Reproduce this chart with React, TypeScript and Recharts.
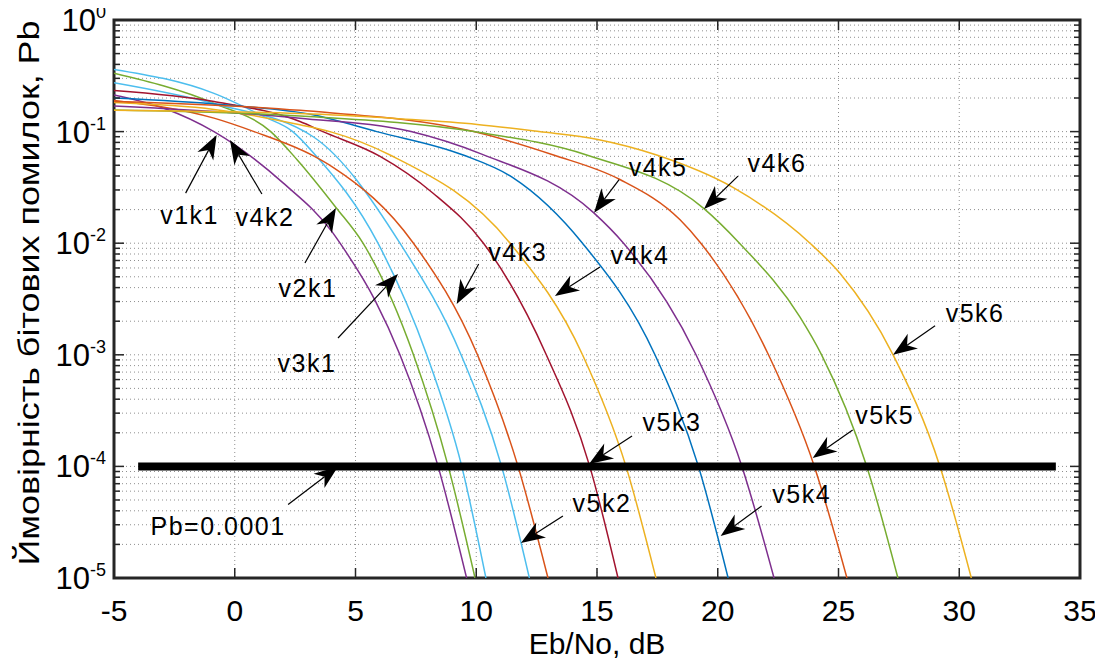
import {
  LineChart,
  Line,
  XAxis,
  YAxis,
  CartesianGrid,
  ReferenceArea,
  ReferenceDot,
} from "recharts";

const CHART_W = 1103;
const CHART_H = 666;
// plot box inside the svg (px)
const PLOT = { left: 114, top: 20, right: 1080, bottom: 578 };

const FONT = '"Liberation Sans", Arial, Helvetica, sans-serif';
const AXIS_INK = "#262626";

// MATLAB default colour order
const C_BLUE = "#0072BD";
const C_ORANGE = "#D95319";
const C_YELLOW = "#EDB120";
const C_PURPLE = "#7E2F8E";
const C_GREEN = "#77AC30";
const C_CYAN = "#4DBEEE";
const C_RED = "#A2142F";

// axis ticks
const xTicks = [-5, 0, 5, 10, 15, 20, 25, 30, 35];
const yExponents = [0, -1, -2, -3, -4, -5];
const yMinorSteps = [2, 3, 4, 5, 6, 7, 8, 9];
const yMajorTicks = yExponents.map((e) => Math.pow(10, e));
const yMinorTicks = yExponents
  .filter((e) => e < 0)
  .flatMap((e) => yMinorSteps.map((m) => m * Math.pow(10, e)));
const yTicks = [...yMajorTicks, ...yMinorTicks].sort((a, b) => a - b);

// BER curves: [Eb/No dB, Pb]
const v1k1: [number, number][] = [
  [-5, 0.213], [-2.93, 0.162], [-0.86, 0.1], [2.0, 0.0347], [4.07, 0.0123],
  [4.36, 0.01], [5.8, 0.0031], [6.84, 0.001], [8.42, 1e-4], [9.6, 1e-5],
];
const v2k1: [number, number][] = [
  [-5, 0.333], [-0.86, 0.179], [1.49, 0.1], [2.59, 0.0557], [4.19, 0.0209],
  [5.31, 0.01], [7.4, 0.001], [8.84, 1e-4], [9.95, 1e-5],
];
const v3k1: [number, number][] = [
  [-5, 0.361], [-0.86, 0.22], [1.21, 0.136], [2.4, 0.1], [3.28, 0.0638],
  [5.93, 0.01], [7.95, 0.001], [9.4, 1e-4], [10.4, 1e-5],
];
const v5k2: [number, number][] = [
  [-5, 0.274], [-0.86, 0.178], [3.28, 0.089], [6.84, 0.01], [9.37, 0.001],
  [11.05, 1e-4], [12.2, 1e-5],
];
const v4k3: [number, number][] = [
  [-5, 0.19], [-0.86, 0.132], [0.8, 0.1], [3.28, 0.0603], [4.07, 0.0479],
  [7.4, 0.01], [10.05, 0.001], [11.73, 1e-4], [12.97, 1e-5],
];
const v5k3: [number, number][] = [
  [-5, 0.233], [-0.86, 0.186], [2.7, 0.123], [3.65, 0.1], [6.0, 0.0603],
  [8.2, 0.0282], [10.3, 0.01], [12.9, 0.001], [14.7, 1e-4], [15.87, 1e-5],
];
const v4k4: [number, number][] = [
  [-5, 0.182], [-0.86, 0.158], [2.7, 0.115], [3.94, 0.1], [6.43, 0.0617],
  [11.4, 0.01], [14.4, 0.001], [16.2, 1e-4], [17.44, 1e-5],
];
const v5k4: [number, number][] = [
  [-5, 0.2], [-0.44, 0.174], [3.28, 0.141], [5.88, 0.1], [9.46, 0.0617],
  [11.5, 0.0389], [14.4, 0.01], [17.4, 0.001], [19.2, 1e-4], [20.43, 1e-5],
];
const v4k5: [number, number][] = [
  [-5, 0.17], [2.7, 0.132], [7.3, 0.1], [10.2, 0.0631], [14.88, 0.0186],
  [16.1, 0.01], [19.1, 0.001], [21.0, 1e-4], [22.33, 1e-5],
];
const v5k5: [number, number][] = [
  [-5, 0.186], [2.7, 0.155], [9.9, 0.1], [13.2, 0.0617], [15.95, 0.0372],
  [18.44, 0.0162], [19.3, 0.01], [22.1, 0.001], [24.0, 1e-4], [25.35, 1e-5],
];
const v4k6: [number, number][] = [
  [-5, 0.156], [2.7, 0.138], [9.9, 0.1], [14.57, 0.0617], [19.43, 0.0204],
  [20.9, 0.01], [23.4, 0.00219], [24.3, 0.001], [26.17, 1e-4], [27.46, 1e-5],
];
const v5k6: [number, number][] = [
  [-5, 0.155], [2.7, 0.145], [6.9, 0.13], [10.04, 0.116], [12.6, 0.1],
  [15.03, 0.0851], [17.47, 0.0617], [20.63, 0.0316], [23.82, 0.01],
  [25.06, 0.00537], [27.26, 0.001], [29.2, 1e-4], [30.5, 1e-5],
];

// required error-rate level
const pbLimit = 0.0001;
const pbLimitRange = [-4, 34];

const curves = [
  { name: "v1k1", color: C_PURPLE, points: v1k1 },
  { name: "v2k1", color: C_GREEN, points: v2k1 },
  { name: "v3k1", color: C_CYAN, points: v3k1 },
  { name: "v5k2", color: C_CYAN, points: v5k2 },
  { name: "v4k3", color: C_ORANGE, points: v4k3 },
  { name: "v5k3", color: C_RED, points: v5k3 },
  { name: "v4k4", color: C_YELLOW, points: v4k4 },
  { name: "v5k4", color: C_BLUE, points: v5k4 },
  { name: "v4k5", color: C_PURPLE, points: v4k5 },
  { name: "v5k5", color: C_ORANGE, points: v5k5 },
  { name: "v4k6", color: C_GREEN, points: v4k6 },
  { name: "v5k6", color: C_YELLOW, points: v5k6 },
];

// arrow annotations: tip (data coords), tail and text offsets (px)
const notes = [
  { text: "v1k1", x: -0.75, y: 0.093, tail: [-31, 58], label: [-27, 80] },
  { text: "v4k2", x: -0.2, y: 0.084, tail: [32, 54], label: [35, 77] },
  { text: "v2k1", x: 4.19, y: 0.0207, tail: [-31, 55], label: [-28, 80] },
  { text: "v3k1", x: 6.76, y: 0.0053, tail: [-60, 64], label: [-91, 89] },
  { text: "Pb=0.0001", x: 4.28, y: pbLimit, tail: [-50, 38], label: [-120, 60] },
  { text: "v4k3", x: 9.19, y: 0.00285, tail: [22, -40], label: [61, -52] },
  { text: "v4k4", x: 13.26, y: 0.00336, tail: [45, -29], label: [85, -41] },
  { text: "v4k5", x: 14.88, y: 0.01876, tail: [25, -33], label: [64, -46] },
  { text: "v4k6", x: 19.43, y: 0.0202, tail: [34, -33], label: [73, -46] },
  { text: "v5k6", x: 27.26, y: 0.001, tail: [42, -29], label: [82, -42] },
  { text: "v5k5", x: 23.93, y: 0.000119, tail: [40, -28], label: [72, -43] },
  { text: "v5k4", x: 20.12, y: 0.0000238, tail: [41, -30], label: [81, -42] },
  { text: "v5k3", x: 14.67, y: 0.000105, tail: [43, -28], label: [83, -42] },
  { text: "v5k2", x: 11.85, y: 0.0000206, tail: [42, -27], label: [81, -40] },
];

const toRows = (pts: [number, number][]) => pts.map(([x, pb]) => ({ x, pb }));

function YTick(props: any) {
  const { y, payload } = props;
  const v = payload.value;
  const major = yMajorTicks.includes(v);
  const len = major ? 10 : 6;
  const exp = Math.round(Math.log10(v));
  return (
    <g>
      <line x1={PLOT.left} x2={PLOT.left + len} y1={y} y2={y} stroke={AXIS_INK} strokeWidth={1.5} />
      <line x1={PLOT.right} x2={PLOT.right - len} y1={y} y2={y} stroke={AXIS_INK} strokeWidth={1.5} />
      {major && (
        <text x={PLOT.left - 8} y={y + 11} textAnchor="end" fontFamily={FONT} fontSize={31} fill="#000">
          <tspan>10</tspan>
          <tspan dy={-13} fontSize={18}>{String(exp)}</tspan>
        </text>
      )}
    </g>
  );
}

function XTick(props: any) {
  const { x, payload } = props;
  return (
    <g>
      <line x1={x} x2={x} y1={PLOT.bottom} y2={PLOT.bottom - 10} stroke={AXIS_INK} strokeWidth={1.5} />
      <line x1={x} x2={x} y1={PLOT.top} y2={PLOT.top + 10} stroke={AXIS_INK} strokeWidth={1.5} />
      <text x={x} y={PLOT.bottom + 43} textAnchor="middle" fontFamily={FONT} fontSize={30} fill="#000">
        {payload.value}
      </text>
    </g>
  );
}

function arrowNote(note: (typeof notes)[number]) {
  return (props: any) => {
    const { cx, cy } = props;
    const tx = cx + note.tail[0];
    const ty = cy + note.tail[1];
    const dx = cx - tx;
    const dy = cy - ty;
    const d = Math.hypot(dx, dy);
    const ux = dx / d;
    const uy = dy / d;
    const nx = -uy;
    const ny = ux;
    const headLen = 24;
    const headHalf = 9;
    const notch = 7;
    const bx = cx - ux * headLen;
    const by = cy - uy * headLen;
    const mx = cx - ux * (headLen - notch);
    const my = cy - uy * (headLen - notch);
    const head = [
      [cx, cy],
      [bx + nx * headHalf, by + ny * headHalf],
      [mx, my],
      [bx - nx * headHalf, by - ny * headHalf],
    ]
      .map((p) => p.join(","))
      .join(" ");
    return (
      <g>
        <line x1={tx} y1={ty} x2={mx} y2={my} stroke="#000" strokeWidth={1.2} />
        <polygon points={head} fill="#000" />
        <text
          x={cx + note.label[0]}
          y={cy + note.label[1]}
          textAnchor="middle"
          dominantBaseline="central"
          fontFamily={FONT}
          fontSize={25}
          letterSpacing={1.5}
          fill="#000"
        >
          {note.text}
        </text>
      </g>
    );
  };
}

export default function App() {
  return (
    <div
      style={{
        position: "relative",
        width: CHART_W,
        height: CHART_H,
        margin: -8,
        background: "#fff",
      }}
    >
      <LineChart
        width={CHART_W}
        height={CHART_H}
        margin={{ top: PLOT.top, right: CHART_W - PLOT.right, bottom: 0, left: 0 }}
      >
        <CartesianGrid stroke="#8f8f8f" strokeDasharray="1 3" strokeWidth={1} />
        <XAxis
          type="number"
          dataKey="x"
          domain={[-5, 35]}
          ticks={xTicks}
          interval={0}
          height={CHART_H - PLOT.bottom}
          axisLine={false}
          tickLine={false}
          tick={(p: any) => <XTick {...p} />}
          allowDataOverflow
        />
        <YAxis
          type="number"
          dataKey="pb"
          scale="log"
          domain={[1e-5, 1]}
          ticks={yTicks}
          interval={0}
          width={PLOT.left}
          axisLine={false}
          tickLine={false}
          tick={(p: any) => <YTick {...p} />}
          allowDataOverflow
        />
        <ReferenceArea
          x1={-5}
          x2={35}
          y1={1e-5}
          y2={1}
          fill="none"
          fillOpacity={0}
          stroke={AXIS_INK}
          strokeWidth={3}
          ifOverflow="visible"
        />
        {curves.map((c) => (
          <Line
            key={c.name}
            data={toRows(c.points)}
            dataKey="pb"
            type="monotone"
            stroke={c.color}
            strokeWidth={1.5}
            dot={false}
            isAnimationActive={false}
          />
        ))}
        <Line
          data={pbLimitRange.map((x) => ({ x, pb: pbLimit }))}
          dataKey="pb"
          type="linear"
          stroke="#000"
          strokeWidth={8}
          dot={false}
          isAnimationActive={false}
        />
        {notes.map((n) => (
          <ReferenceDot key={n.text} x={n.x} y={n.y} r={0} shape={arrowNote(n)} ifOverflow="visible" />
        ))}
      </LineChart>
      <svg
        width={CHART_W}
        height={CHART_H}
        style={{ position: "absolute", left: 0, top: 0, pointerEvents: "none" }}
      >
        <text x={597} y={654} textAnchor="middle" fontFamily={FONT} fontSize={30} fill="#000">
          Eb/No, dB
        </text>
        <text
          transform="translate(39, 293) rotate(-90)"
          textAnchor="middle"
          fontFamily={FONT}
          fontSize={29}
          textLength={545}
          lengthAdjust="spacingAndGlyphs"
          fill="#000"
        >
          Ймовірність бітових помилок, Pb
        </text>
      </svg>
    </div>
  );
}
